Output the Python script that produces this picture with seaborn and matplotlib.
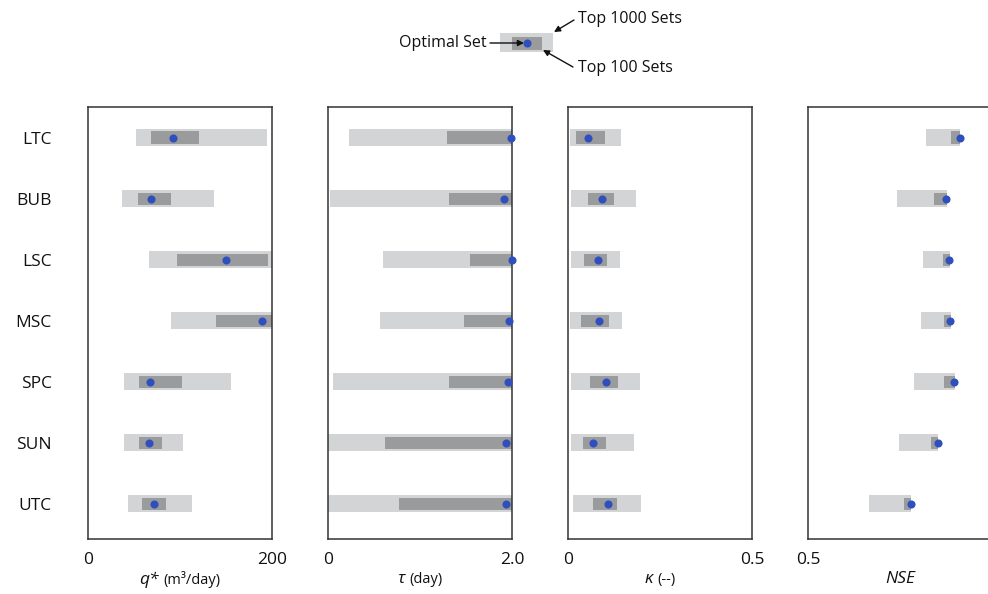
import numpy as np
import pandas as pd
import matplotlib
matplotlib.use("Agg")
import matplotlib.pyplot as plt
from matplotlib.offsetbox import TextArea, HPacker, AnchoredOffsetbox
from matplotlib.patches import Rectangle
import seaborn as sns

# Catchments (top to bottom)
sites = ["LTC", "BUB", "LSC", "MSC", "SPC", "SUN", "UTC"]

# q* (m3/day): ranges of top 1000 sets, top 100 sets, and optimal value
q_top1000_lo = [51.8, 36.6, 66.3, 89.9, 38.8, 39.5, 43.8]
q_top1000_hi = [194.2, 137.3, 199.5, 200.0, 155.1, 103.6, 113.4]
q_top100_lo = [68.1, 54.7, 96.4, 138.8, 55.4, 55.8, 58.3]
q_top100_hi = [121.0, 89.9, 195.7, 200.0, 102.2, 80.1, 85.1]
q_opt = [92.8, 68.5, 150.0, 188.8, 67.0, 65.9, 71.7]

# tau (day)
tau_top1000_lo = [0.23, 0.02, 0.60, 0.57, 0.05, 0.0, 0.0]
tau_top1000_hi = [2.0, 2.0, 2.0, 2.0, 2.0, 2.0, 2.0]
tau_top100_lo = [1.29, 1.32, 1.54, 1.48, 1.32, 0.62, 0.77]
tau_top100_hi = [2.0, 2.0, 2.0, 2.0, 2.0, 2.0, 2.0]
tau_opt = [1.99, 1.91, 2.0, 1.97, 1.96, 1.93, 1.94]

# kappa (--)
k_top1000_lo = [0.005, 0.007, 0.007, 0.005, 0.007, 0.007, 0.013]
k_top1000_hi = [0.145, 0.184, 0.141, 0.148, 0.196, 0.178, 0.198]
k_top100_lo = [0.022, 0.053, 0.044, 0.035, 0.061, 0.040, 0.069]
k_top100_hi = [0.100, 0.126, 0.106, 0.111, 0.137, 0.102, 0.133]
k_opt = [0.053, 0.092, 0.082, 0.085, 0.103, 0.067, 0.110]

# Nash-Sutcliffe efficiency
nse_top1000_lo = [0.820, 0.743, 0.813, 0.806, 0.788, 0.746, 0.666]
nse_top1000_hi = [0.914, 0.877, 0.885, 0.889, 0.899, 0.852, 0.781]
nse_top100_lo = [0.889, 0.843, 0.868, 0.870, 0.870, 0.835, 0.760]
nse_top100_hi = [0.914, 0.877, 0.885, 0.889, 0.899, 0.852, 0.781]
nse_opt = [0.914, 0.874, 0.884, 0.887, 0.898, 0.852, 0.781]

x_limits = [(0, 200), (0, 2.0), (0, 0.5), (0.5, 1.0)]
x_ticks = [[0, 200], [0, 2.0], [0, 0.5], [0.5]]
x_ticklabels = [["0", "200"], ["0", "2.0"], ["0", "0.5"], ["0.5"]]
symbols = ["q*", "τ", "κ", "NSE"]
units = ["(m³/day)", "(day)", "(--)", ""]

panels = [
    (q_top1000_lo, q_top1000_hi, q_top100_lo, q_top100_hi, q_opt),
    (tau_top1000_lo, tau_top1000_hi, tau_top100_lo, tau_top100_hi, tau_opt),
    (k_top1000_lo, k_top1000_hi, k_top100_lo, k_top100_hi, k_opt),
    (nse_top1000_lo, nse_top1000_hi, nse_top100_lo, nse_top100_hi, nse_opt),
]

LIGHT = "#d3d4d6"
DARK = "#9a9b9d"
BLUE = "#2f4fbe"
SPINE = "#333333"
INK = "#111111"

sns.set_theme(style="white")
plt.rcParams["font.family"] = ["Open Sans", "DejaVu Sans"]
plt.rcParams["text.color"] = INK
plt.rcParams["xtick.color"] = INK
plt.rcParams["ytick.color"] = INK

W, H = 988, 594
fig = plt.figure(figsize=(W / 100, H / 100), dpi=100)

ax_left_px = [88, 328, 568, 808]
ax_w_px = 184
ax_top_px, ax_bot_px = 107, 539

ypos = np.arange(len(sites))

for i, (lo1, hi1, lo2, hi2, opt) in enumerate(panels):
    ax = fig.add_axes([ax_left_px[i] / W, 1 - ax_bot_px / H,
                       ax_w_px / W, (ax_bot_px - ax_top_px) / H])
    lo1, hi1, lo2, hi2 = map(np.asarray, (lo1, hi1, lo2, hi2))
    ax.barh(ypos, hi1 - lo1, left=lo1, height=0.29, color=LIGHT,
            linewidth=0, zorder=1)
    ax.barh(ypos, hi2 - lo2, left=lo2, height=0.197, color=DARK,
            linewidth=0, zorder=2)
    df = pd.DataFrame({"site": ypos, "value": opt})
    sns.scatterplot(data=df, x="value", y="site", ax=ax, color=BLUE,
                    s=34, linewidth=0, zorder=4, clip_on=False)
    ax.set_xlim(*x_limits[i])
    ax.set_ylim(6.58, -0.5)
    ax.set_xticks(x_ticks[i])
    ax.set_xticklabels(x_ticklabels[i], fontsize=12.5, color=INK)
    ax.tick_params(axis="x", length=0, pad=9)
    if i == 0:
        ax.set_yticks(ypos)
        ax.set_yticklabels(sites, fontsize=12.5, color=INK)
        ax.tick_params(axis="y", length=0, pad=26)
    else:
        ax.set_yticks([])
    ax.set_xlabel("")
    ax.set_ylabel("")
    for sp in ax.spines.values():
        sp.set_visible(True)
        sp.set_color(SPINE)
        sp.set_linewidth(1.1)

    parts = [TextArea(symbols[i], textprops=dict(fontsize=12.5,
                                                 style="italic", color=INK))]
    if units[i]:
        parts.append(TextArea(units[i], textprops=dict(fontsize=10.5,
                                                       color=INK)))
    box = HPacker(children=parts, sep=3, pad=0, align="baseline")
    anchored = AnchoredOffsetbox(loc="upper center", child=box, pad=0,
                                 frameon=False,
                                 bbox_to_anchor=(0.5, -0.075),
                                 bbox_transform=ax.transAxes, borderpad=0)
    ax.add_artist(anchored)

# Legend key drawn in figure pixel space
lg = fig.add_axes([0, 0, 1, 1], zorder=5)
lg.set_xlim(0, W)
lg.set_ylim(H, 0)
lg.axis("off")
lg.patch.set_alpha(0)
lg.add_patch(Rectangle((500, 32.5), 53, 19, color=LIGHT, lw=0))
lg.add_patch(Rectangle((512, 37), 30, 12.5, color=DARK, lw=0))
lg.scatter([527], [43], s=34, color=BLUE, zorder=3, linewidth=0)
lg.text(487, 43, "Optimal Set", ha="right", va="center", fontsize=11.5,
        color=INK)
lg.annotate("", xy=(524, 43), xytext=(490, 43),
            arrowprops=dict(arrowstyle="-|>", color=INK, lw=1,
                            mutation_scale=9, shrinkA=0, shrinkB=0))
lg.text(578, 19, "Top 1000 Sets", ha="left", va="center", fontsize=11.5,
        color=INK)
lg.annotate("", xy=(554, 32), xytext=(574, 20),
            arrowprops=dict(arrowstyle="-|>", color=INK, lw=1,
                            mutation_scale=9, shrinkA=0, shrinkB=0))
lg.text(578, 68, "Top 100 Sets", ha="left", va="center", fontsize=11.5,
        color=INK)
lg.annotate("", xy=(543, 50), xytext=(573, 67),
            arrowprops=dict(arrowstyle="-|>", color=INK, lw=1,
                            mutation_scale=9, shrinkA=0, shrinkB=0))

fig.savefig("out.png", dpi=100, facecolor="white")
